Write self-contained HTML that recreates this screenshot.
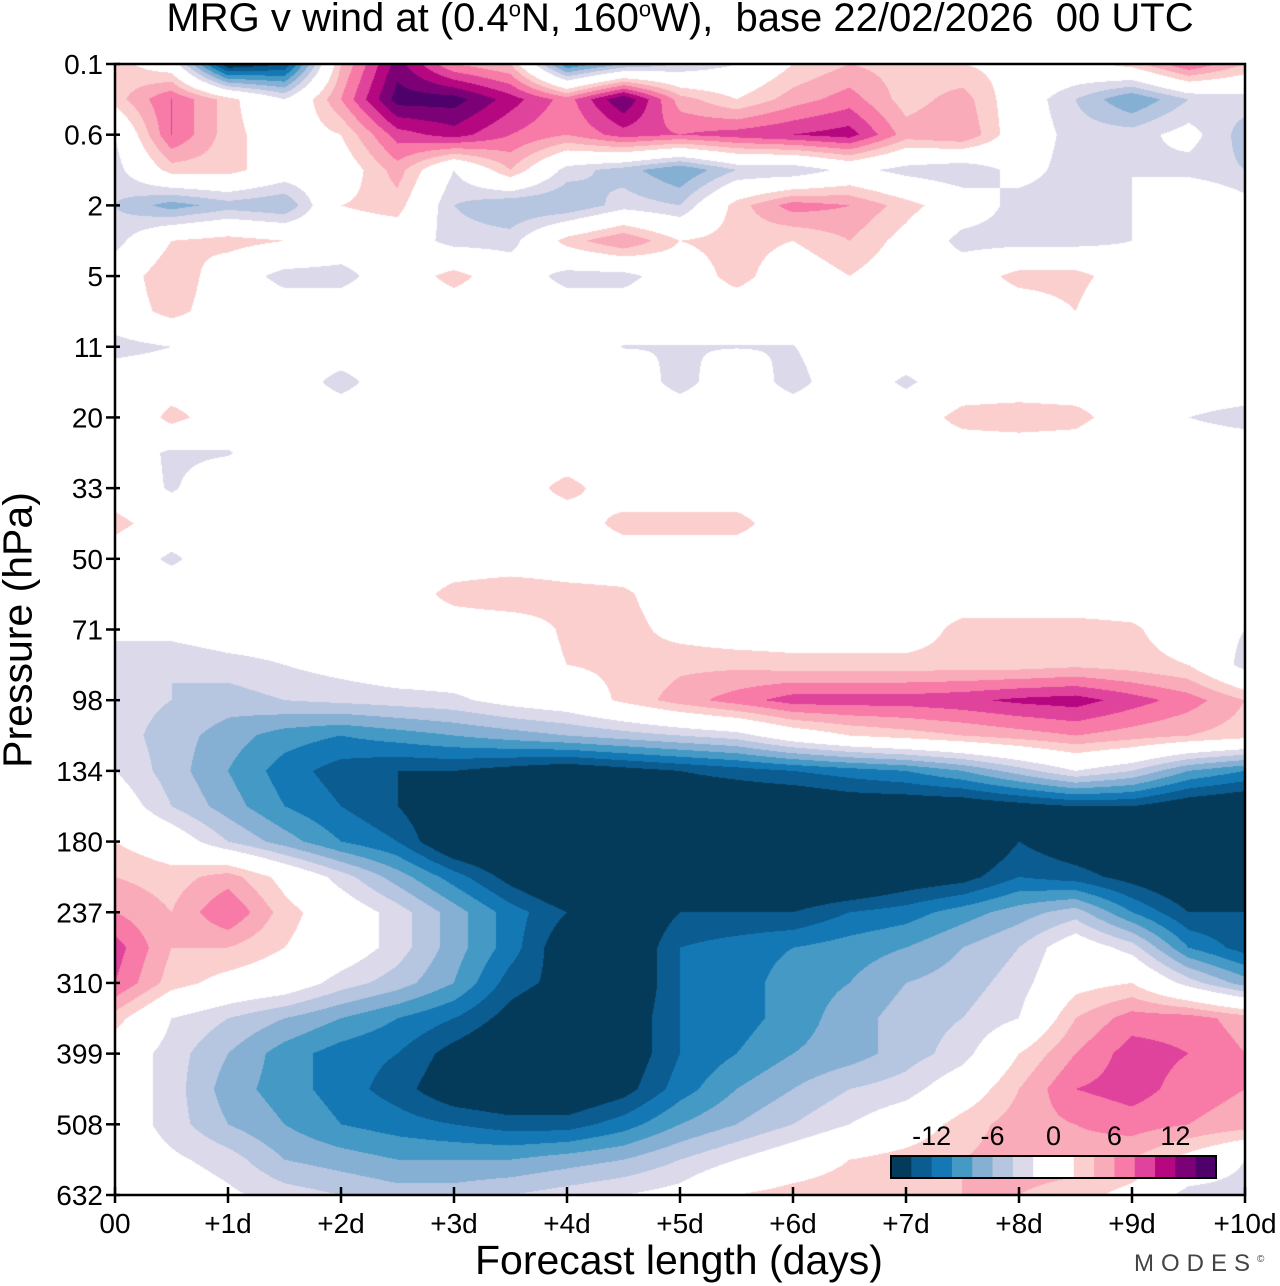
<!DOCTYPE html>
<html><head><meta charset="utf-8"><style>
body{margin:0;background:#fff;}
#wrap{position:relative;width:1280px;height:1286px;overflow:hidden;background:#fff;font-family:"Liberation Sans",sans-serif;color:#000;}
.t{position:absolute;white-space:nowrap;}
</style></head><body>
<div id="wrap">
<div class="t" style="left:0;width:1360px;text-align:center;top:-4px;font-size:40px;">MRG v wind at (0.4<sup style="font-size:22px">o</sup>N, 160<sup style="font-size:22px">o</sup>W),&nbsp; base 22/02/2026&nbsp; 00 UTC</div>
<canvas id="cv" width="1130" height="1131" style="position:absolute;left:115px;top:64px;"></canvas>
<svg id="ax" width="1280" height="1286" style="position:absolute;left:0;top:0;"></svg>
<div class="t" style="left:475px;top:1237px;font-size:41px;">Forecast length (days)</div>
<div class="t" style="left:18px;top:630px;font-size:41px;transform:translate(-50%,-50%) rotate(-90deg);transform-origin:center;">Pressure (hPa)</div>
<div class="t" style="left:1134px;top:1250px;font-size:24px;color:#444;letter-spacing:7px;">MODES<sup style="font-size:10px;letter-spacing:0">©</sup></div>
</div>
<script>
const yTickLabels=["0.1","0.6","2","5","11","20","33","50","71","98","134","180","237","310","399","508","632"];
const xTickLabels=["00","+1d","+2d","+3d","+4d","+5d","+6d","+7d","+8d","+9d","+10d"];
const cbLabels=[-12,-6,0,6,12];
const colors=["#053b5a","#0b5c91","#1478b4","#4599c5","#85b0d3","#b6c5e0","#dcdaea","#ffffff","#ffffff","#fccfcf","#f9abb9","#f77aa7","#e0439c","#b5077f","#7c0177","#4e006b"];
// rows: half pressure-level steps from 0.1 hPa (top) to 632 hPa; columns: 0..10 days every 0.5 d
const vwind=[
[3,0,-16,-14,4,13,6,4,-10,-6,-4,-2,2,4,3,2,1,1,3,8,4],
[3,8,3,-2,6,15,15,11,7,14,5,2,5,7,3,5,0,-4,-8,-4,-3],
[-2,8,3,0,2,9,11,8,6,9,8,9,10,11,5,6,0,-3,-3,-1,-5],
[-3,3,3,0,0,5,-2,4,-3,-5,-8,-4,-4,-1,-3,-4,-1,-3,-2,-3,-4],
[-4,-7,-5,-6,2,3,-4,-6,-6,-3,-4,3,7,6,3,0,-3,-3,-2,2,-1],
[-3,2,3,2,0,0,-3,-3,3,6,2,3,2,4,1,-3,-3,-3,-2,0,-2],
[0,4,0,-3,-3,0,3,0,-3,-3,0,3,0,2,0,0,3,3,0,0,0],
[0,3,0,0,0,0,0,0,0,0,0,0,0,0,0,0,0,2,-2,0,0],
[-3,-2,0,0,0,0,0,0,0,-2.1,-2.1,-2.1,-2.1,0,0,0,0,0,0,0,0],
[0,0,0,0,-3,0,0,0,0,0,-3,0,-3,0,-2.5,0,0,0,0,0,0],
[-2,3,0,0,0,0,0,0,0,0,0,0,0,0,0,3,3.5,3,0,-2,-3],
[0,-2.5,-2.2,0,0,0,0,0,0,0,0,0,0,0,0,0,0,0,-2,0,0],
[0,-2.3,0,0,0,0,0,0,3,0,0,0,0,0,0,0,0,0,0,0,0],
[3,0,0,0,0,0,0,0,0,3,3,3,0,0,0,0,0,0,0,0,0],
[0,-2.5,0,0,0,0,0,0,0,0,0,0,0,0,0,0,0,0,0,0,0],
[0,0,0,0,0,0,3,4,3,2.5,0,0,0,0,0,0,0,0,0,0,0],
[-1.5,-1,0,0,0,0,0,0,2.5,3,1,0,0,0,0,3,3,3,2.5,0,-2],
[-3,-4,-3,-2,-1,0,0,0,2,2.5,3.5,3.5,3,3,3,3,3,3.5,3,2,-3],
[-3,-4,-5,-4,-3.5,-3,-2.5,-1,0,2.5,5,7,9,9,9,9.5,10.5,11,9,7,4],
[-3,-5,-7,-9,-10,-9,-8,-7,-6,-5,-4,-3,0,2,3,4,5,6,5,4,3],
[-2,-5,-8,-11,-13,-14,-14,-15,-16,-15,-14,-13,-12,-11,-10,-8,-5,-2,-4,-8,-10],
[0,-4,-7,-10,-12,-14,-17,-18,-18,-18,-17,-17,-17,-16,-16,-16,-15,-14,-14,-16,-17],
[2,0,-4,-7,-10,-12,-17,-18,-18,-18,-18,-18,-18,-18,-18,-18,-14,-16,-17,-18,-18],
[4,3,5,1,-3,-7,-11,-15,-18,-18,-18,-18,-18,-18,-16,-15,-12,-13,-15,-17,-17],
[6,4,8,3,0,-3,-7,-11,-14,-17,-14,-14,-14,-12,-11,-9,-7,-5,-10,-14,-14],
[9,4,4,2,0,-3,-7,-11,-16,-17,-12,-11,-10,-9,-8,-6,-4,0,-3,-10,-13],
[8,3,1,0,-3,-5,-8,-13,-15,-17,-12,-11,-9,-8,-6,-5,-3,1,2,-3,-7],
[3,-2,-4,-6,-8,-10,-12,-15,-17,-16,-12,-11,-9,-7,-5,-4,-2,4,7,7,5],
[0,-3,-6,-9,-11,-12,-15,-17,-17,-16,-12,-10,-8,-7,-5,-3,2,6,9,8,6],
[0,-3,-7,-9,-11,-13,-16,-17,-17,-15,-11,-8,-6,-4,-3,0,4,8,9,7,6],
[0,-3,-6,-8,-10,-11,-12,-13,-13,-11,-8,-6,-4,-2,0,3,5,6,7,6,5],
[0,-1.5,-3,-6,-7,-8,-8,-8,-7,-6,-4,-2,0,2,3,4,5,5,4,1,-2],
[0,0,-1.5,-3,-4,-5,-5,-4,-3,-2,-1,2,3,3.5,4,4,4,3,1,-3,-3]
];
const X0=115,X1=1245,Y0=64,Y1=1195;
const nDays=10, nLev=yTickLabels.length-1;
function xScale(day){return X0+(X1-X0)*day/nDays;}
function yScale(lev){return Y0+(Y1-Y0)*lev/nLev;}
function colorIdx(v){let k=Math.floor((v+16)/2);return Math.max(0,Math.min(15,k));}
function hex(c){return [parseInt(c.substr(1,2),16),parseInt(c.substr(3,2),16),parseInt(c.substr(5,2),16)];}
const rgb=colors.map(hex);
(function(){
  const cv=document.getElementById('cv');const ctx=cv.getContext('2d');
  const W=cv.width,H=cv.height;const img=ctx.createImageData(W,H);
  const nr=vwind.length,nc=vwind[0].length;
  for(let py=0;py<H;py++){
    const lev=(py+0.5)/H*nLev; const r=lev*(nr-1)/nLev;
    const r0=Math.min(nr-2,Math.floor(r)),fr=r-r0;
    for(let px=0;px<W;px++){
      const d=(px+0.5)/W*nDays; const c=d*(nc-1)/nDays;
      const c0=Math.min(nc-2,Math.floor(c)),fc=c-c0;
      const v=(vwind[r0][c0]*(1-fc)+vwind[r0][c0+1]*fc)*(1-fr)+(vwind[r0+1][c0]*(1-fc)+vwind[r0+1][c0+1]*fc)*fr;
      const col=rgb[colorIdx(v)];const i=(py*W+px)*4;
      img.data[i]=col[0];img.data[i+1]=col[1];img.data[i+2]=col[2];img.data[i+3]=255;
    }
  }
  ctx.putImageData(img,0,0);
})();
(function(){
  const svg=document.getElementById('ax');const NS='http://www.w3.org/2000/svg';
  function mk(tag,attrs){const e=document.createElementNS(NS,tag);for(const k in attrs)e.setAttribute(k,attrs[k]);svg.appendChild(e);return e;}
  const frame=mk('rect',{x:X0,y:Y0,width:X1-X0,height:Y1-Y0,fill:'none',stroke:'#000','stroke-width':2.5});
  
  
  yTickLabels.forEach((lab,i)=>{
    const y=yScale(i);
    const tk=mk('line',{x1:X0-9,x2:X0+5,y1:y,y2:y,stroke:'#000','stroke-width':2.5});
    
    
    const t=mk('text',{x:X0-12,y:y+10,'text-anchor':'end','font-size':28,'font-family':'Liberation Sans, sans-serif'});
    t.textContent=lab;
    
    
  });
  xTickLabels.forEach((lab,i)=>{
    const x=xScale(i);
    const tk=mk('line',{x1:x,x2:x,y1:Y1-8,y2:Y1+8,stroke:'#000','stroke-width':2.5});
    
    
    const t=mk('text',{x:x,y:Y1+38,'text-anchor':'middle','font-size':28,'font-family':'Liberation Sans, sans-serif'});
    t.textContent=lab;
    
    
  });
  const cbX=891,cbW=325,cbY=1156,cbH=22,bw=cbW/colors.length;
  colors.forEach((c,i)=>{
    const r=mk('rect',{x:cbX+i*bw,y:cbY,width:bw+0.5,height:cbH,fill:c});
    
    
  });
  const cb=mk('rect',{x:cbX,y:cbY,width:cbW,height:cbH,fill:'none',stroke:'#000','stroke-width':2});
  
  
  cbLabels.forEach(v=>{
    const x=cbX+(v+16)/32*cbW;
    const t=mk('text',{x:x,y:1145,'text-anchor':'middle','font-size':27,'font-family':'Liberation Sans, sans-serif'});
    t.textContent=String(v);
    
    
  });
})();
</script>
</body></html>
